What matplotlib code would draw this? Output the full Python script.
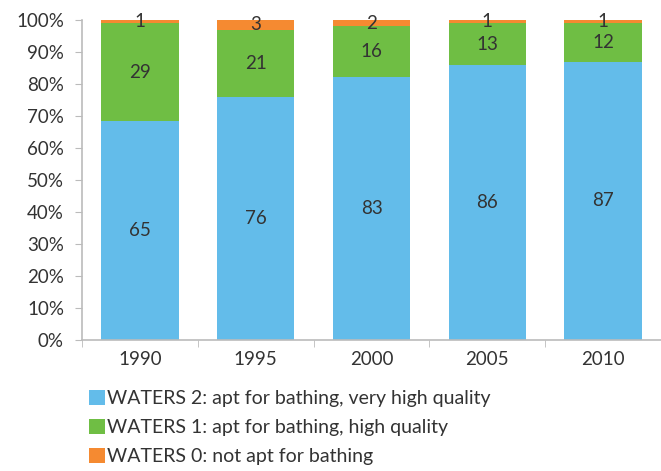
import numpy as np
import matplotlib.pyplot as plt

years = ["1990", "1995", "2000", "2005", "2010"]
waters2 = [65, 76, 83, 86, 87]
waters1 = [29, 21, 16, 13, 12]
waters0 = [1, 3, 2, 1, 1]
names = ["WATERS 2: apt for bathing, very high quality",
         "WATERS 1: apt for bathing, high quality",
         "WATERS 0: not apt for bathing"]
colors = ["#63BCEA", "#6FBE44", "#F58A31"]

plt.rcParams['font.family'] = ['Lato', 'DejaVu Sans']
txt = "#333333"

fig = plt.figure(figsize=(6.61, 4.71), dpi=100)
ax = fig.add_axes([82/661, 1 - 340/471, 579/661, 320/471])

series = [np.array(waters2, float), np.array(waters1, float), np.array(waters0, float)]
total = sum(series)
x = np.arange(len(years))
bottom = np.zeros(len(years))
for vals, name, c in zip(series, names, colors):
    pct = vals / total * 100
    ax.bar(x, pct, 0.67, bottom=bottom, color=c, label=name)
    for i in range(len(years)):
        ax.text(x[i], bottom[i] + pct[i] / 2, str(int(vals[i])), ha='center', va='center',
                fontsize=13.5, color=txt)
    bottom += pct

ax.set_xlim(-0.5, len(years) - 0.5)
ax.set_ylim(0, 100)
ax.set_yticks(range(0, 101, 10))
ax.set_yticklabels([f"{v}%" for v in range(0, 101, 10)])
ax.set_xticks(x)
ax.set_xticklabels(years)
ax.set_xticks(np.arange(-0.5, len(years)), minor=True)
ax.tick_params(axis='x', which='major', length=0, pad=8, labelsize=13.5, labelcolor=txt)
ax.tick_params(axis='x', which='minor', length=5, color='#BBBBBB', direction='out')
ax.tick_params(axis='y', length=5, color='#BBBBBB', direction='out', labelsize=13.5, labelcolor=txt, pad=8)
for s in ['top', 'right']:
    ax.spines[s].set_visible(False)
for s in ['left', 'bottom']:
    ax.spines[s].set_color('#BBBBBB')
    ax.spines[s].set_linewidth(1.2)

fig.legend(loc='upper left', bbox_to_anchor=(71/661, 1 - 372/471), frameon=False,
           fontsize=14, handlelength=0.85, handleheight=0.85, handletextpad=0.1,
           labelspacing=0.6, labelcolor=txt)

fig.savefig("out.png", dpi=100)
